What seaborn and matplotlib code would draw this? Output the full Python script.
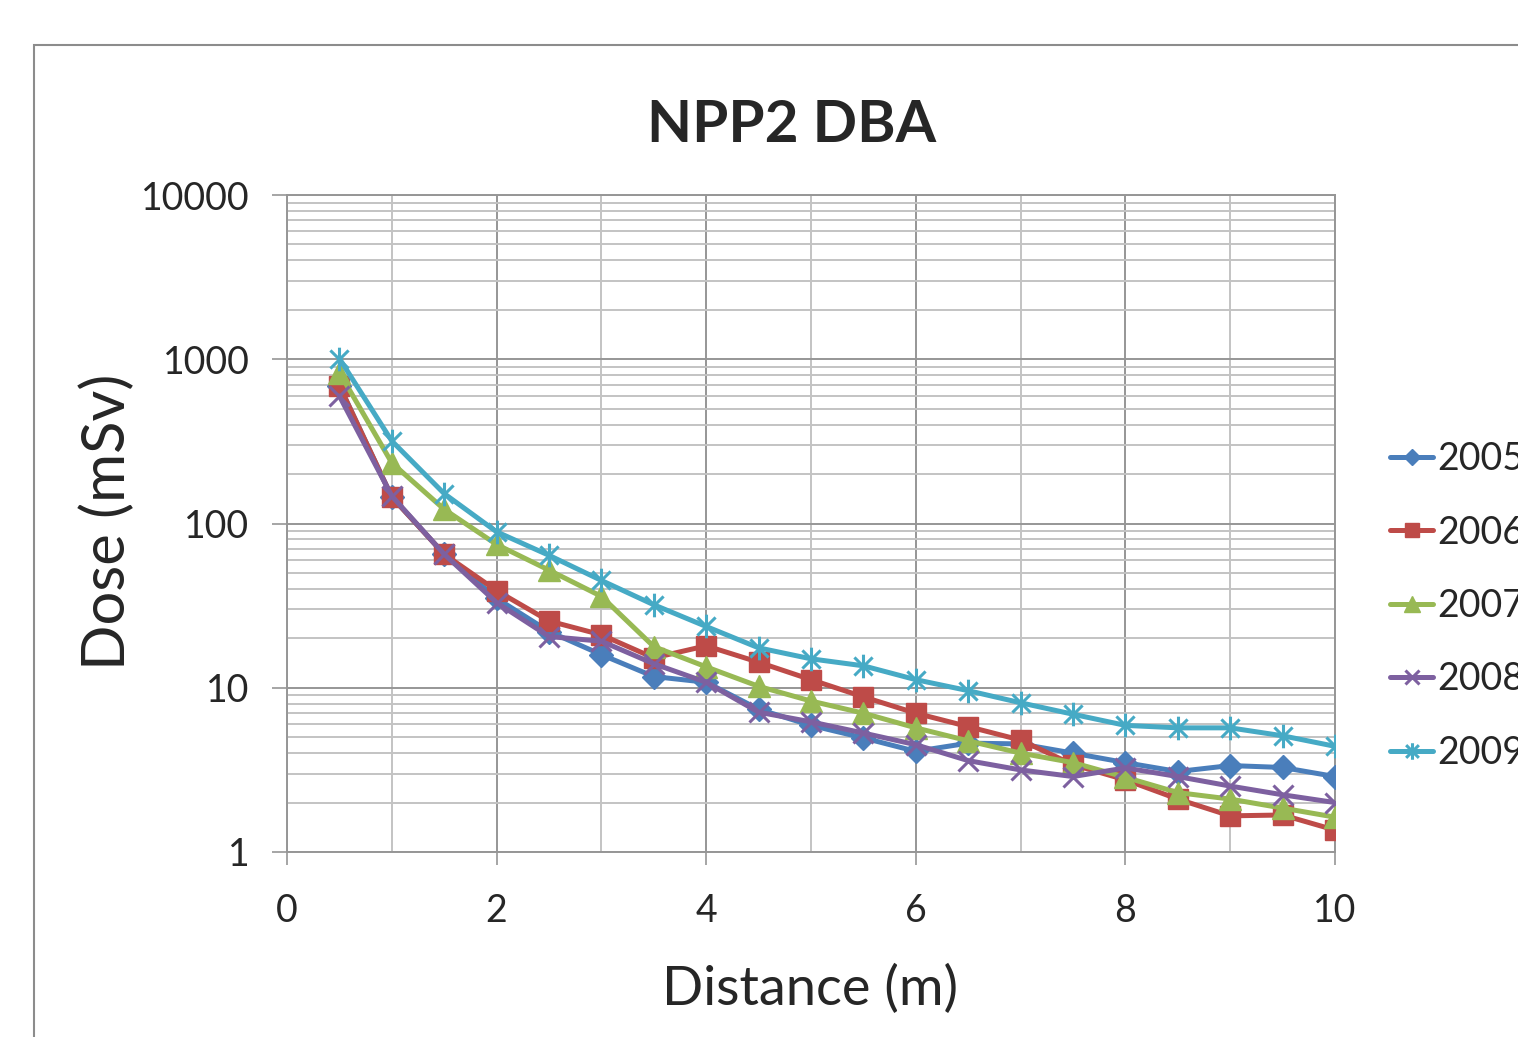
import numpy as np
import pandas as pd
import matplotlib
matplotlib.use("Agg")
import matplotlib.pyplot as plt
from matplotlib.path import Path
from matplotlib.patches import Rectangle
from matplotlib.ticker import FixedLocator, NullFormatter, FixedFormatter
import seaborn as sns

# ---------------- data ----------------
distance = [0.5, 1.0, 1.5, 2.0, 2.5, 3.0, 3.5, 4.0, 4.5, 5.0,
            5.5, 6.0, 6.5, 7.0, 7.5, 8.0, 8.5, 9.0, 9.5, 10.0]
years = ["2005", "2006", "2007", "2008", "2009"]
dose_2005 = [690, 145, 65, 35, 22, 15.9, 11.7, 10.8, 7.4, 5.9,
             4.95, 4.1, 4.6, 4.55, 4.0, 3.5, 3.09, 3.36, 3.27, 2.88]
dose_2006 = [690, 145, 65, 39, 25.5, 21, 15.2, 18, 14.3, 11.2,
             8.8, 7.0, 5.8, 4.8, 3.4, 2.75, 2.1, 1.66, 1.68, 1.36]
dose_2007 = [830, 234, 122, 74.5, 52, 36, 17.8, 13.4, 10.2, 8.3,
             7.0, 5.7, 4.75, 4.0, 3.5, 2.85, 2.3, 2.1, 1.85, 1.63]
dose_2008 = [597, 147, 65, 33, 20.5, 19.2, 14.0, 10.8, 7.1, 6.2,
             5.3, 4.5, 3.6, 3.16, 2.88, 3.25, 2.88, 2.52, 2.23, 2.0]
dose_2009 = [1010, 318, 152, 89, 64, 45, 32, 23.6, 17.5, 15,
             13.6, 11.2, 9.6, 8.1, 6.9, 5.9, 5.7, 5.7, 5.1, 4.4]
series = [dose_2005, dose_2006, dose_2007, dose_2008, dose_2009]

x_ticks = [0, 2, 4, 6, 8, 10]
x_ticklabels = ["0", "2", "4", "6", "8", "10"]
y_ticks = [1, 10, 100, 1000, 10000]
y_ticklabels = ["1", "10", "100", "1000", "10000"]

df = pd.DataFrame({
    "Distance (m)": np.tile(distance, len(years)),
    "Dose (mSv)": np.concatenate(series),
    "Year": np.repeat(years, len(distance)),
})

# ---------------- style ----------------
sns.set_style("white")
plt.rcParams["font.family"] = ["Lato", "DejaVu Sans"]

colors = {"2005": "#4A7EBB", "2006": "#BE4B48", "2007": "#98B954",
          "2008": "#7D60A0", "2009": "#46AAC5"}

star = Path([(-1, -1), (1, 1), (-1, 1), (1, -1), (0, -1.3), (0, 1.3)],
            [Path.MOVETO, Path.LINETO, Path.MOVETO, Path.LINETO,
             Path.MOVETO, Path.LINETO])
marker_spec = {
    "2005": dict(marker="D", ms=12, mec=colors["2005"], mew=1.0, mfc=colors["2005"]),
    "2006": dict(marker="s", ms=14, mec=colors["2006"], mew=1.0, mfc=colors["2006"]),
    "2007": dict(marker="^", ms=16, mec=colors["2007"], mew=1.0, mfc=colors["2007"]),
    "2008": dict(marker="x", ms=14, mec=colors["2008"], mew=2.2, mfc="none"),
    "2009": dict(marker=star, ms=17, mec=colors["2009"], mew=2.2, mfc="none"),
}

W, H = 1518, 1037
fig = plt.figure(figsize=(W / 100, H / 100), dpi=100)
ax = fig.add_axes([287 / W, 1 - 852 / H, (1335 - 287) / W, (852 - 195) / H])

for yr in years:
    sub = df[df["Year"] == yr]
    sns.lineplot(data=sub, x="Distance (m)", y="Dose (mSv)", color=colors[yr],
                 lw=3.6, label=yr, ax=ax, zorder=3, **marker_spec[yr])

ax.set_yscale("log")
ax.set_xlim(0, 10)
ax.set_ylim(1, 10000)

# ticks
ax.xaxis.set_major_locator(FixedLocator(x_ticks))
ax.xaxis.set_major_formatter(FixedFormatter(x_ticklabels))
ax.xaxis.set_minor_locator(FixedLocator([1, 3, 5, 7, 9]))
ax.xaxis.set_minor_formatter(NullFormatter())
ax.yaxis.set_major_locator(FixedLocator(y_ticks))
ax.yaxis.set_major_formatter(FixedFormatter(y_ticklabels))
minor_y = [m * 10 ** e for e in range(0, 4) for m in range(2, 10)]
ax.yaxis.set_minor_locator(FixedLocator(minor_y))
ax.yaxis.set_minor_formatter(NullFormatter())

grid_major = "#969696"
grid_minor = "#C3C3C3"
ax.grid(True, which="major", color=grid_major, lw=1.4, zorder=0)
ax.grid(True, which="minor", color=grid_minor, lw=1.4, zorder=0)
ax.set_axisbelow(True)

ax.tick_params(axis="x", which="major", direction="out", length=9.5, width=1.2,
               color=grid_major, pad=20, labelsize=27, bottom=True)
ax.tick_params(axis="y", which="major", direction="out", length=11, width=1.2,
               color=grid_major, pad=16, labelsize=27, left=True)
ax.tick_params(which="minor", length=0)

for sp in ax.spines.values():
    sp.set_color(grid_major)
    sp.set_linewidth(1.4)

ax.set_xlabel("")
ax.set_ylabel("")
fig.text(810 / W, 1 - 1005 / H, "Distance (m)", ha="center", va="baseline",
         fontsize=39)
fig.text(125 / W, 1 - 522 / H, "Dose (mSv)", rotation=90, rotation_mode="anchor",
         ha="center", va="baseline", fontsize=43)
fig.text(792 / W, 1 - 142 / H, "NPP2 DBA", ha="center", va="baseline",
         fontsize=42, fontweight="bold")

# legend
handles, labels = ax.get_legend_handles_labels()
ax.legend(handles, labels, loc="center left",
          bbox_to_anchor=(1390 / W, 1 - 606 / H), bbox_transform=fig.transFigure,
          frameon=False, fontsize=27, handlelength=1.15, handletextpad=0.1,
          labelspacing=1.0, borderpad=0, borderaxespad=0, markerscale=0.7)

# outer chart frame (cropped at right/bottom)
fig.add_artist(Rectangle((34 / W, -0.1), 2.0, 1 - 45 / H + 0.1,
                         transform=fig.transFigure, fill=False,
                         edgecolor="#8C8C8C", lw=1.5))

fig.savefig("out.png", dpi=100)
